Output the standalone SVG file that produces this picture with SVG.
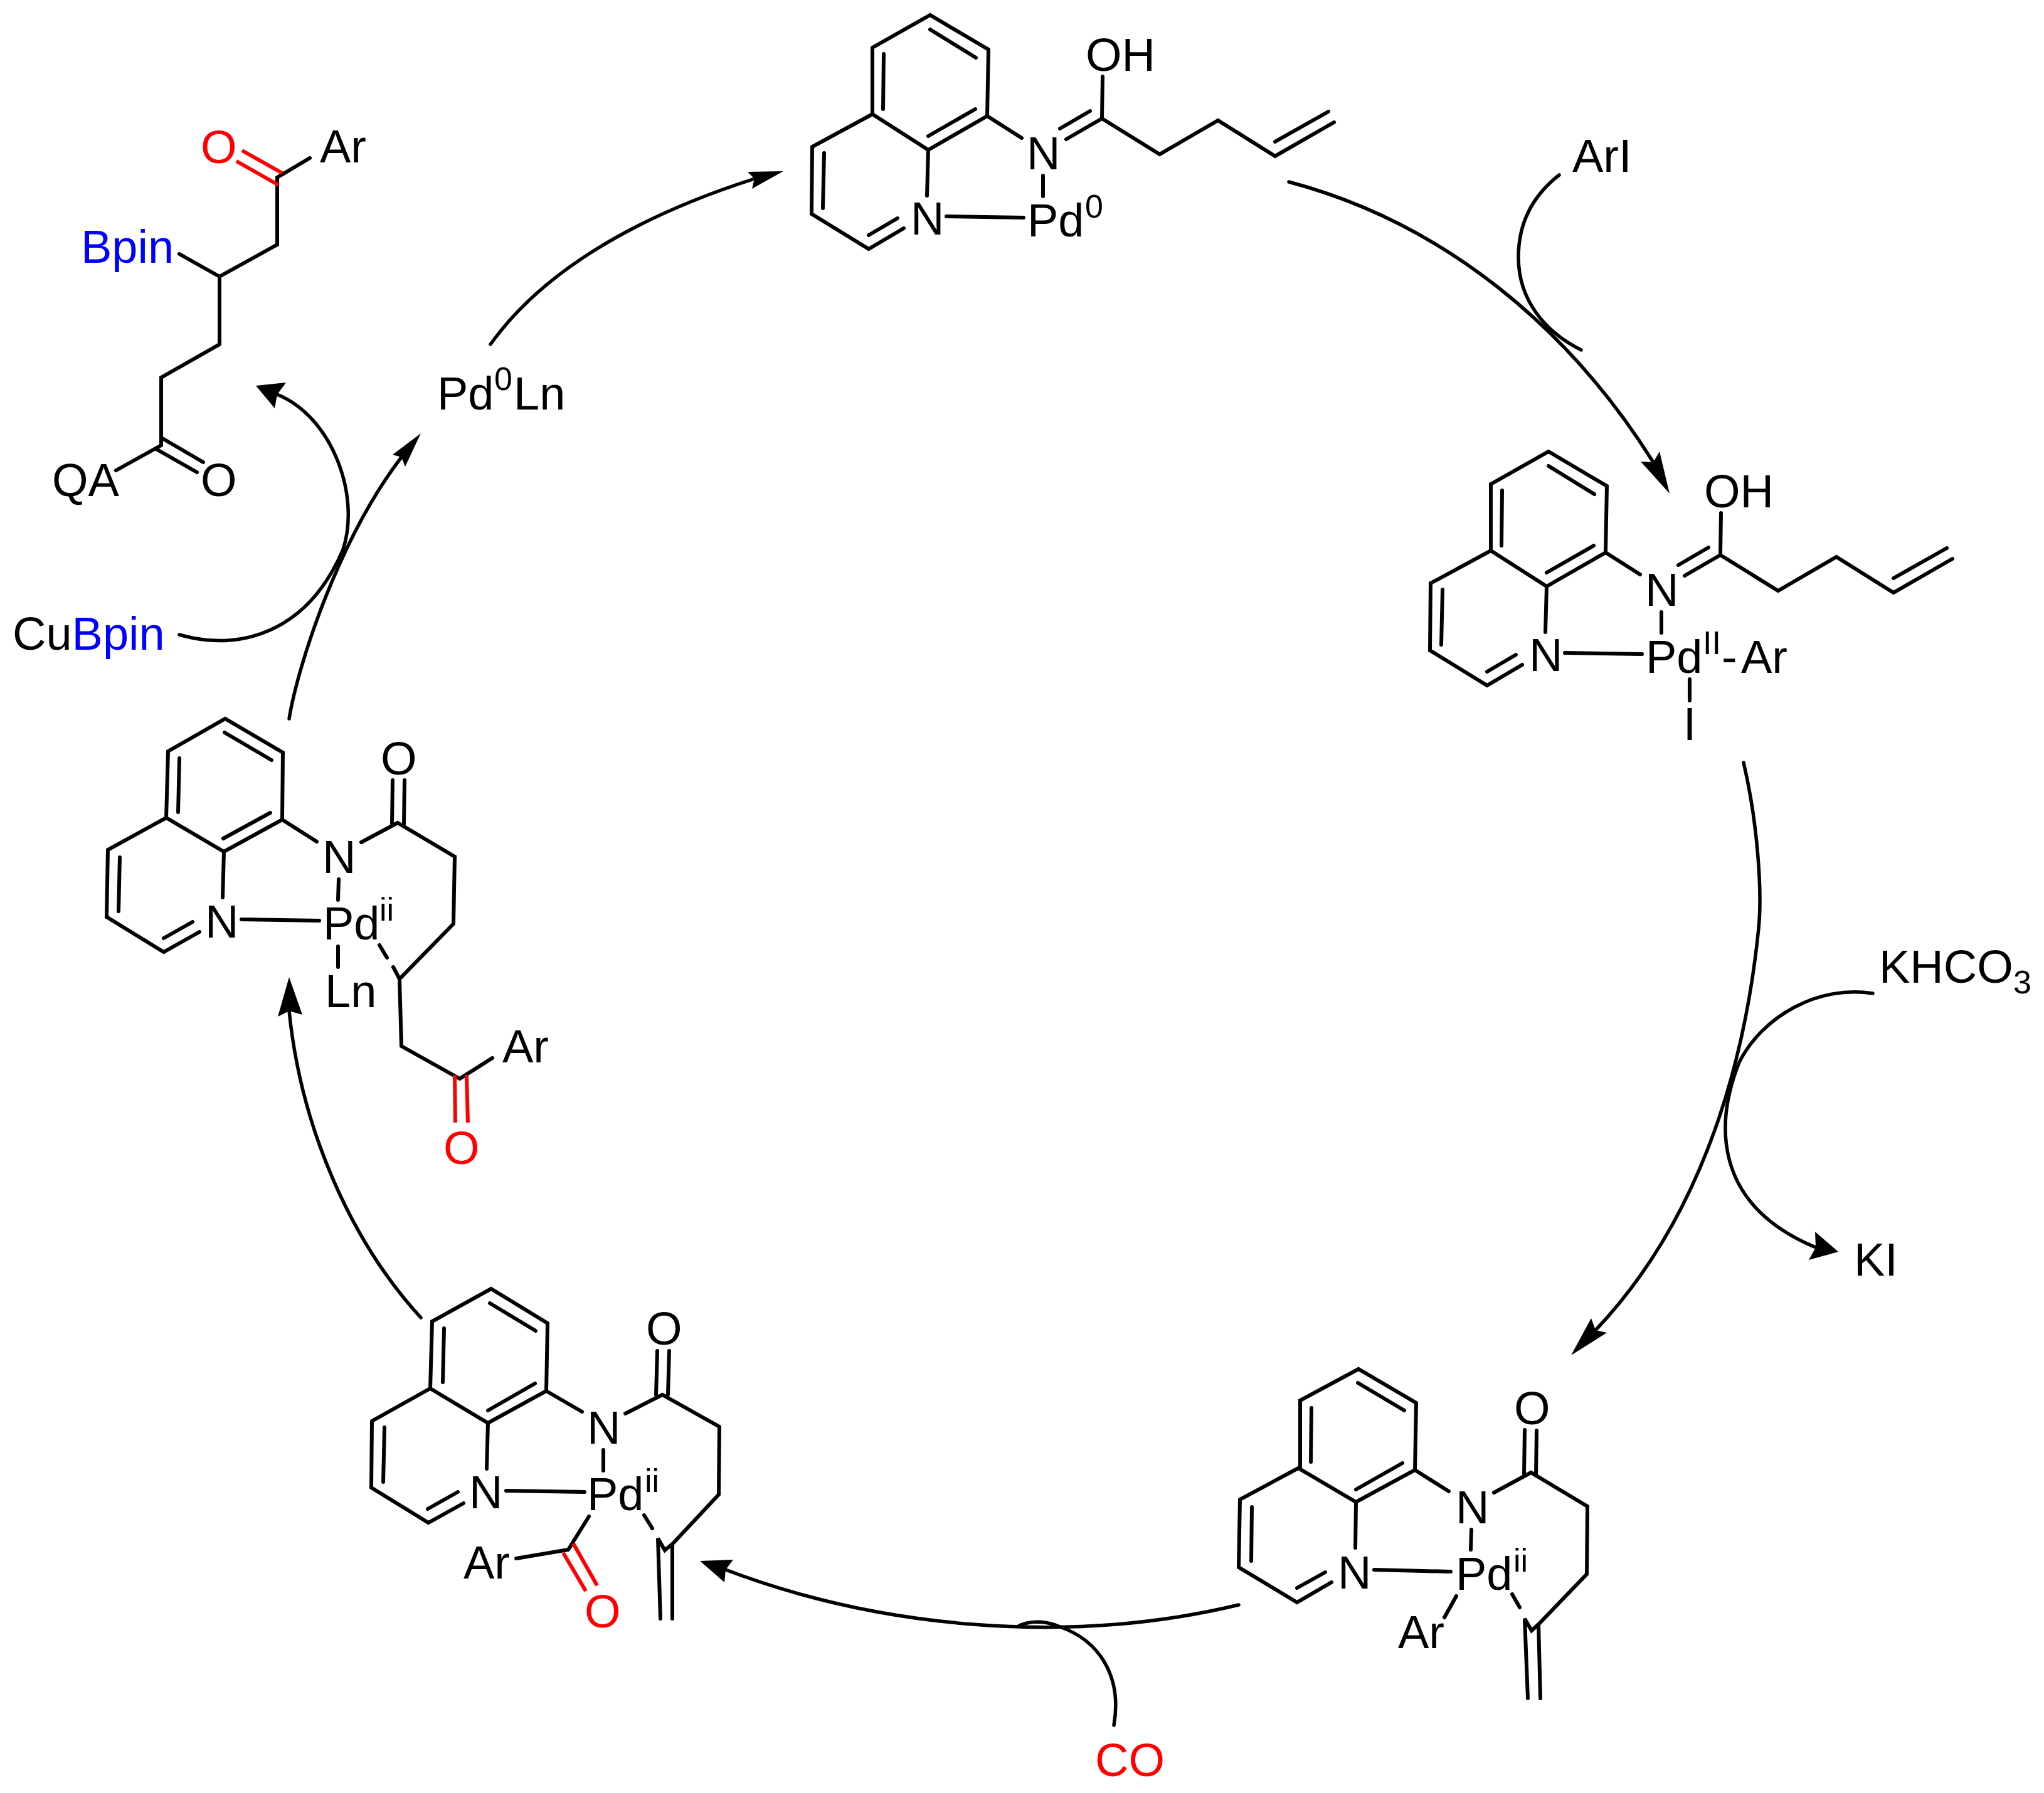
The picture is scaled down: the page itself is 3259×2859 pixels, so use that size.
<svg xmlns="http://www.w3.org/2000/svg" width="3259" height="2859" viewBox="0 0 3259 2859">
<style>
text{font-family:"Liberation Sans",Arial,sans-serif;font-size:74px;fill:#000}
.sup{font-size:52px}
.red{fill:#f00}
.blue{fill:#00f}
.b{fill:none;stroke:#000;stroke-width:6;stroke-linecap:round;stroke-linejoin:miter}
.r{fill:none;stroke:#f00;stroke-width:6;stroke-linecap:butt}
.c{fill:none;stroke:#000;stroke-width:5.5;stroke-linecap:round}
.h{fill:#000;stroke:none}
</style>
<defs>
<path id="enol" d="M1391,182L1391,76L1483,24L1576,79L1574,185L1480,239L1391,182L1295,234L1294,341L1385,397L1441,364M1480,239L1478,312M1483,47L1556,92M1409,86L1408,174M1480,217L1555,174M1314,244L1312,332M1385,375L1431,348M1574,185L1629,220M1663,280L1663,313M1509,345L1632,347M1758,122L1757,188M1757,189L1700,222M1738,177L1690,205M1757,189L1849,246L1942,192L2033,249L2127,195M2033,226L2118,178"/>
</defs>
<rect width="3259" height="2859" fill="#fff"/>
<g id="connectors">
<path class="c" d="M2055,290C2300,355 2500,520 2636,737"/>
<path class="h" d="M2662,787L2616,736L2636,737L2646,720Z"/>
<path class="c" d="M2486,279C2440,315 2421,360 2421,410C2421,480 2465,530 2521,558"/>
<path class="c" d="M2780,1216C2802,1310 2810,1420 2804,1480C2785,1670 2725,1930 2544,2121"/>
<path class="h" d="M2505,2161L2537,2102L2544,2121L2562,2125Z"/>
<path class="c" d="M2986,1584C2900,1570 2810,1620 2773,1694C2735,1790 2730,1920 2895,1989"/>
<path class="h" d="M2931,1996L2894,1964L2895,1989L2884,2009Z"/>
<path class="c" d="M1975,2559C1700,2625 1400,2595 1157,2503"/>
<path class="h" d="M1116,2489L1169,2487L1157,2503L1155,2523Z"/>
<path class="c" d="M1776,2751C1790,2670 1750,2615 1690,2594C1670,2585 1645,2583 1625,2592"/>
<path class="c" d="M671,2101C560,1980 480,1800 461,1612"/>
<path class="h" d="M461,1558L443,1621L461,1612L482,1618Z"/>
<path class="c" d="M461,1146C475,1060 540,860 640,729"/>
<path class="h" d="M671,691L626,725L640,729L646,744Z"/>
<path class="c" d="M782,549C860,440 1000,350 1203,285"/>
<path class="h" d="M1249,273L1192,274L1203,285L1199,301Z"/>
<path class="c" d="M286,1012C380,1040 490,1010 547,876C575,790 530,665 442,629"/>
<path class="h" d="M408,615L456,610L442,629L438,651Z"/>
</g>
<g id="m1">
<use href="#enol" class="b"/>
<text x="1731" y="113">OH</text>
<text x="1637" y="270">N</text>
<text x="1452" y="374">N</text>
<text x="1638" y="377">Pd<tspan class="sup" x="1730" y="347">0</tspan></text>
</g>
<g id="m2">
<use href="#enol" class="b" transform="translate(986 696)"/>
<path class="b" d="M2694,1083L2694,1117"/>
<text x="2717" y="809">OH</text>
<text x="2623" y="966">N</text>
<text x="2438" y="1070">N</text>
<text x="2624" y="1073">Pd<tspan class="sup" x="2715" y="1043">II</tspan></text>
<text x="2745" y="1073">-</text>
<text x="2776" y="1073">Ar</text>
<text x="2694" y="1180" text-anchor="middle">I</text>
</g>
<g id="m3">
<path class="b" d="M2073,2341L2073,2233L2166,2183L2258,2237L2256,2344L2162,2395L2070,2341L1977,2391L1975,2499L2068,2555L2123,2523M2162,2395L2161,2468M2165,2205L2239,2249M2091,2245L2090,2331M2162,2375L2236,2333M1996,2403L1995,2489M2068,2532L2113,2507M2256,2344L2310,2378M2346,2439L2345,2471M2191,2503L2313,2506M2431,2280L2430,2351M2450,2281L2449,2353M2382,2380L2441,2348L2531,2402L2530,2510L2453,2590L2442,2600L2431,2581L2436,2708M2453,2590L2456,2708M2411,2542L2423,2563M2322,2545L2303,2579"/>
<text x="2414" y="2271">O</text>
<text x="2321" y="2429">N</text>
<text x="2133" y="2533">N</text>
<text x="2321" y="2535">Pd<tspan class="sup" x="2413" y="2506">ii</tspan></text>
<text x="2229" y="2628">Ar</text>
</g>
<g id="m4">
<path class="b" d="M686,2214L689,2107L783,2055L873,2110L871,2218L778,2269L686,2214L593,2266L592,2372L683,2428L739,2397M778,2269L776,2342M781,2078L854,2122M708,2118L706,2204M778,2249L853,2206M613,2276L611,2363M682,2406L730,2379M871,2218L928,2251M962,2312L962,2345M807,2377L932,2379M1048,2154L1046,2224M1067,2154L1065,2224M997,2254L1056,2224L1147,2275L1146,2383L1073,2461L1060,2472L1049,2453L1053,2581M1072,2463L1072,2581M1027,2416L1040,2437M939,2418L906,2471L823,2485"/>
<path class="r" d="M898,2476L934,2537M914,2461L952,2528"/>
<text x="1030" y="2144">O</text>
<text x="936" y="2302">N</text>
<text x="748" y="2405">N</text>
<text x="936" y="2408">Pd<tspan class="sup" x="1028" y="2379">ii</tspan></text>
<text x="739" y="2517">Ar</text>
<text class="red" x="932" y="2595">O</text>
</g>
<g id="m5">
<path class="b" d="M265,1304L268,1198L359,1146L451,1200L450,1307L357,1358L265,1304L172,1355L170,1462L261,1518L318,1486M357,1358L355,1431M358,1168L433,1212M286,1209L284,1295M356,1337L431,1296M191,1367L189,1453M261,1496L307,1470M450,1307L505,1342M540,1402L539,1435M385,1466L509,1468M626,1244L625,1314M645,1244L644,1314M576,1343L634,1312L725,1366L723,1473L637,1561L627,1542M605,1507L617,1527M637,1561L640,1668L733,1720L785,1687M539,1509L539,1542"/>
<path class="r" d="M725,1714L726,1790M744,1714L746,1790"/>
<text x="607" y="1235">O</text>
<text x="514" y="1392">N</text>
<text x="327" y="1495">N</text>
<text x="515" y="1498">Pd<tspan class="sup" x="605" y="1468">ii</tspan></text>
<text x="518" y="1606">Ln</text>
<text x="801" y="1694">Ar</text>
<text class="red" x="707" y="1856">O</text>
</g>
<g id="product">
<path class="b" d="M494,252L442,283L442,390L350,441L350,549L257,602L257,710L185,750M286,405L350,441M249,716L314,753M259,699L324,737"/>
<path class="r" d="M386,240L450,276M377,257L444,295"/>
<text class="red" x="320" y="260">O</text>
<text x="510" y="259">Ar</text>
<text class="blue" x="129" y="419">Bpin</text>
<text x="83" y="791">QA</text>
<text x="320" y="791">O</text>
</g>
<g id="pd0ln"><text x="697" y="653">Pd<tspan class="sup" x="788" y="622">0</tspan><tspan x="819" y="653">Ln</tspan></text></g>
<g id="arI"><text x="2507" y="274">ArI</text></g>
<g id="khco3"><text x="2996" y="1567">KHCO<tspan class="sup" x="3210" y="1584">3</tspan></text></g>
<g id="ki"><text x="2956" y="2034">KI</text></g>
<g id="co"><text class="red" x="1746" y="2832">CO</text></g>
<g id="cubpin"><text x="20" y="1036">Cu<tspan class="blue">Bpin</tspan></text></g>
</svg>
